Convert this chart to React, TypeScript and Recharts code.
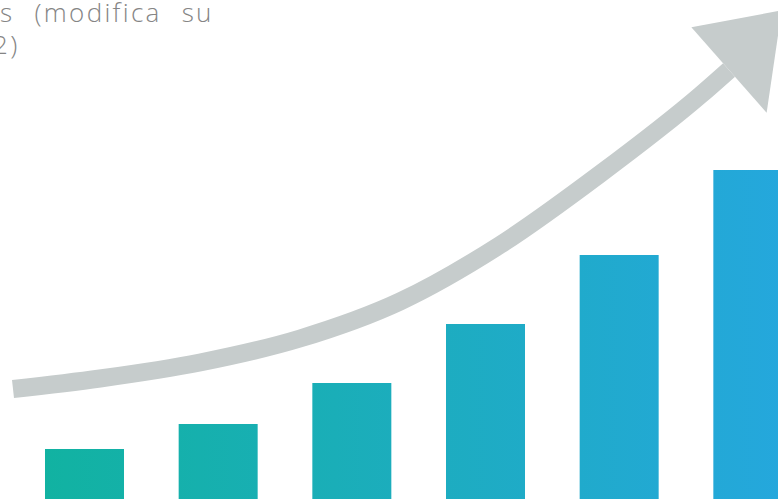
import React from "react";
import { ComposedChart, Bar, Line, XAxis, YAxis } from "recharts";

// bar heights, in % of the plot height
const categories = ["1", "2", "3", "4", "5", "6"];
const barValues = [10.2, 15.2, 23.4, 35.2, 49, 66];

// growth arrow: x along the plot width, y in the same units as the bars
const arrowX = [13, 100, 200, 300, 400, 500, 600, 700, 729];
const arrowY = [22.2, 24.3, 27.5, 32.3, 39.7, 51.0, 65.2, 80.9, 86.0];

const textLines = ["s (modifica su", "2)"];

const barData = categories.map((cat, i) => ({ cat, value: barValues[i] }));
const arrowData = arrowX.map((x, i) => ({ x, y: arrowY[i] }));

const ARROW_COLOR = "#C6CCCC";

let prevPoint = { cx: 0, cy: 0 };

const ArrowHead = (props: any) => {
  const { cx, cy, index } = props;
  if (index < arrowData.length - 1) {
    prevPoint = { cx, cy };
    return <g key={`p-${index}`} />;
  }
  // direction of the last segment
  const dx = cx - prevPoint.cx;
  const dy = cy - prevPoint.cy;
  const len = Math.sqrt(dx * dx + dy * dy) || 1;
  const ux = dx / len;
  const uy = dy / len;
  // normal pointing to the upper-left side
  const nx = uy;
  const ny = -ux;
  const half = 57;
  const tipU = 79;
  const tipV = 10;
  const a = [cx + nx * half, cy + ny * half];
  const b = [cx - nx * half, cy - ny * half];
  const t = [cx + ux * tipU + nx * tipV, cy + uy * tipU + ny * tipV];
  return (
    <polygon
      key={`head-${index}`}
      points={`${a[0]},${a[1]} ${t[0]},${t[1]} ${b[0]},${b[1]}`}
      fill={ARROW_COLOR}
    />
  );
};

export default function App() {
  return (
    <div
      style={{
        position: "fixed",
        left: 0,
        top: 0,
        width: 778,
        height: 499,
        overflow: "hidden",
        background: "#fff",
      }}
    >
      <ComposedChart
        width={820}
        height={500}
        data={barData}
        margin={{ top: 0, right: 0, left: 0, bottom: 0 }}
      >
        <defs>
          <linearGradient id="barFill" gradientUnits="userSpaceOnUse" x1="0" y1="0" x2="800" y2="0">
            <stop offset="0%" stopColor="#10B39E" />
            <stop offset="50%" stopColor="#1CADBD" />
            <stop offset="100%" stopColor="#25A7DE" />
          </linearGradient>
        </defs>
        <XAxis xAxisId="cat" dataKey="cat" hide padding={{ left: 18, right: 0 }} />
        <XAxis xAxisId="trend" type="number" dataKey="x" domain={[0, 820]} hide />
        <YAxis hide domain={[0, 100]} />
        <Bar
          xAxisId="cat"
          dataKey="value"
          barSize={79}
          fill="url(#barFill)"
          isAnimationActive={false}
        />
        <Line
          xAxisId="trend"
          data={arrowData}
          dataKey="y"
          type="monotone"
          stroke={ARROW_COLOR}
          strokeWidth={18}
          dot={ArrowHead}
          activeDot={false}
          isAnimationActive={false}
        />
      </ComposedChart>
      <div
        style={{
          position: "absolute",
          left: 0,
          top: -4,
          fontFamily: "'Open Sans', sans-serif",
          fontWeight: 300,
          fontSize: 26,
          letterSpacing: 2.3,
          wordSpacing: 11,
          color: "#858585",
          lineHeight: "32px",
          whiteSpace: "pre",
        }}
      >
        <div>{textLines[0]}</div>
        <div style={{ marginLeft: -7 }}>{textLines[1]}</div>
      </div>
    </div>
  );
}
